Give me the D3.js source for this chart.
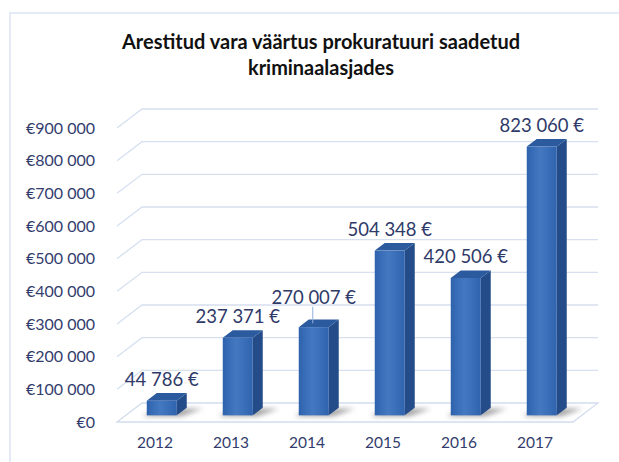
<!DOCTYPE html>
<html lang="et">
<head>
<meta charset="UTF-8">
<title>Arestitud vara väärtus</title>
<script src="https://d3js.org/d3.v7.min.js"></script>
<style>
  body { margin: 0; background: #fff; }
  svg text { font-family: Lato, "Open Sans", sans-serif; }
  .tick-label { font-size: 16px; fill: #333d6d; }
  .year-label { font-size: 15.5px; fill: #333d6d; }
  .value-label { font-size: 18.5px; fill: #2f3a69; }
  .title { font-size: 20px; font-weight: bold; fill: #111; }
</style>
</head>
<body>
<svg width="619" height="462"></svg>
<script>
    // data
    var years = ["2012", "2013", "2014", "2015", "2016", "2017"];
    var values = [44786, 237371, 270007, 504348, 420506, 823060];
    var tickValues = [0, 100000, 200000, 300000, 400000, 500000, 600000, 700000, 800000, 900000];
    var titleLines = ["Arestitud vara väärtus prokuratuuri saadetud", "kriminaalasjades"];

    var w = 619, h = 462;
    var front = { left: 117, right: 573, bottom: 422, top: 128 };
    var depth = { dx: 25, dy: -19 };   // full depth of the floor / back wall
    var barNear = 0.35, barFar = 0.75; // bar position inside the depth
    var barW = 30;

    var svg = d3.select("svg");

    var x = d3.scaleBand().domain(years).range([front.left, front.right]);
    var y = d3.scaleLinear().domain([0, 900000]).range([front.bottom, front.top]);

    var spaced = function (v) { return d3.format(",")(v).replace(/,/g, " "); };

    // gradients
    var defs = svg.append("defs");
    var g1 = defs.append("linearGradient").attr("id", "frontGrad")
        .attr("x1", "0").attr("x2", "1").attr("y1", "0").attr("y2", "0");
    g1.append("stop").attr("offset", "0").attr("stop-color", "#2e62ad");
    g1.append("stop").attr("offset", "0.45").attr("stop-color", "#4479c2");
    g1.append("stop").attr("offset", "1").attr("stop-color", "#2f63ae");
    var blur = defs.append("filter").attr("id", "shadowBlur")
        .attr("x", "-50%").attr("y", "-50%").attr("width", "200%").attr("height", "200%");
    blur.append("feGaussianBlur").attr("stdDeviation", 2.5);

    // chart frame
    svg.append("rect")
        .attr("x", 10).attr("y", 13)
        .attr("width", w + 20).attr("height", h + 20)
        .attr("fill", "#fff")
        .attr("stroke", "#dbe5f4").attr("stroke-width", 1.5);

    // title
    titleLines.forEach(function (line, i) {
        svg.append("text").attr("class", "title")
            .attr("x", 321).attr("y", 49 + i * 26)
            .attr("text-anchor", "middle")
            .attr("textLength", i === 0 ? 398 : 146)
            .attr("lengthAdjust", "spacingAndGlyphs")
            .text(line);
    });

    // floor slab
    svg.append("path")
        .attr("d", "M" + front.left + "," + front.bottom +
            "L" + (front.left + depth.dx) + "," + (front.bottom + depth.dy) +
            "L" + (front.right + depth.dx) + "," + (front.bottom + depth.dy) +
            "L" + front.right + "," + front.bottom + "Z")
        .attr("fill", "#fff").attr("stroke", "#d3ddee").attr("stroke-width", 1.3);

    // gridlines on back wall with the diagonal on the side wall
    var grid = svg.append("g").attr("fill", "none").attr("stroke", "#d6e0f0").attr("stroke-width", 1.3);
    tickValues.forEach(function (v) {
        if (v === 0) return;
        grid.append("path").attr("d",
            "M" + front.left + "," + y(v) +
            "L" + (front.left + depth.dx) + "," + (y(v) + depth.dy) +
            "L" + (front.right + depth.dx) + "," + (y(v) + depth.dy));
    });

    // tick labels
    svg.append("g").selectAll("text").data(tickValues).join("text")
        .attr("class", "tick-label")
        .attr("x", 95).attr("y", function (d) { return y(d); })
        .attr("dy", "0.35em").attr("text-anchor", "end")
        .text(function (d) { return "€" + spaced(d); });

    // year labels
    svg.append("g").selectAll("text").data(years).join("text")
        .attr("class", "year-label")
        .attr("x", function (d) { return x(d) + x.bandwidth() / 2; })
        .attr("y", 443).attr("dy", "0.35em").attr("text-anchor", "middle")
        .text(function (d) { return d; });

    // bars
    var ox = depth.dx * barNear, oy = depth.dy * barNear;
    var bx = depth.dx * (barFar - barNear), by = depth.dy * (barFar - barNear);
    var bars = years.map(function (yr, i) {
        var left = x(yr) + x.bandwidth() / 2 - 17 + ox;
        return { year: yr, value: values[i], left: left, right: left + barW,
                 base: y(0) + oy, top: y(values[i]) + oy };
    });

    var barG = svg.append("g");
    bars.forEach(function (b) {
        // soft shadow on the floor
        barG.append("path")
            .attr("d", "M" + (b.left - 4) + "," + (b.base + 1) +
                "L" + (b.right + 4) + "," + (b.base + 1) +
                "L" + (b.right + bx + 16) + "," + (b.base + by + 1) +
                "L" + (b.left + bx) + "," + (b.base + by + 1) + "Z")
            .attr("fill", "#444").attr("opacity", 0.5)
            .attr("filter", "url(#shadowBlur)");
        // side face
        barG.append("path")
            .attr("d", "M" + b.right + "," + b.base +
                "L" + (b.right + bx) + "," + (b.base + by) +
                "L" + (b.right + bx) + "," + (b.top + by) +
                "L" + b.right + "," + b.top + "Z")
            .attr("fill", "#234c88");
        // top face
        barG.append("path")
            .attr("d", "M" + b.left + "," + b.top +
                "L" + (b.left + bx) + "," + (b.top + by) +
                "L" + (b.right + bx) + "," + (b.top + by) +
                "L" + b.right + "," + b.top + "Z")
            .attr("fill", "#2c5a9f");
        // front face
        barG.append("rect")
            .attr("x", b.left).attr("y", b.top)
            .attr("width", barW).attr("height", b.base - b.top)
            .attr("fill", "url(#frontGrad)");
    });

    // value labels, lifted when they would collide with the previous one
    var labelH = 17;
    var prev = null;
    bars.forEach(function (b) {
        var cx = b.left + barW / 2;
        var cy = b.top - 21;
        var t = svg.append("text").attr("class", "value-label")
            .attr("x", cx).attr("y", cy).attr("dy", "0.35em")
            .attr("text-anchor", "middle")
            .text(spaced(b.value) + " €");
        var bb = t.node().getBBox();
        if (prev && bb.x < prev.x + prev.width && Math.abs(cy - prev.cy) < labelH) {
            var lifted = prev.cy - labelH - 2;
            t.attr("y", lifted);
            svg.append("line")
                .attr("x1", cx - 1).attr("x2", cx - 1)
                .attr("y1", lifted + 9).attr("y2", b.top + by / 2)
                .attr("stroke", "#8fb0dd").attr("stroke-width", 1);
            cy = lifted;
            bb = t.node().getBBox();
        }
        prev = { x: bb.x, width: bb.width, cy: cy };
    });
</script>
</body>
</html>
